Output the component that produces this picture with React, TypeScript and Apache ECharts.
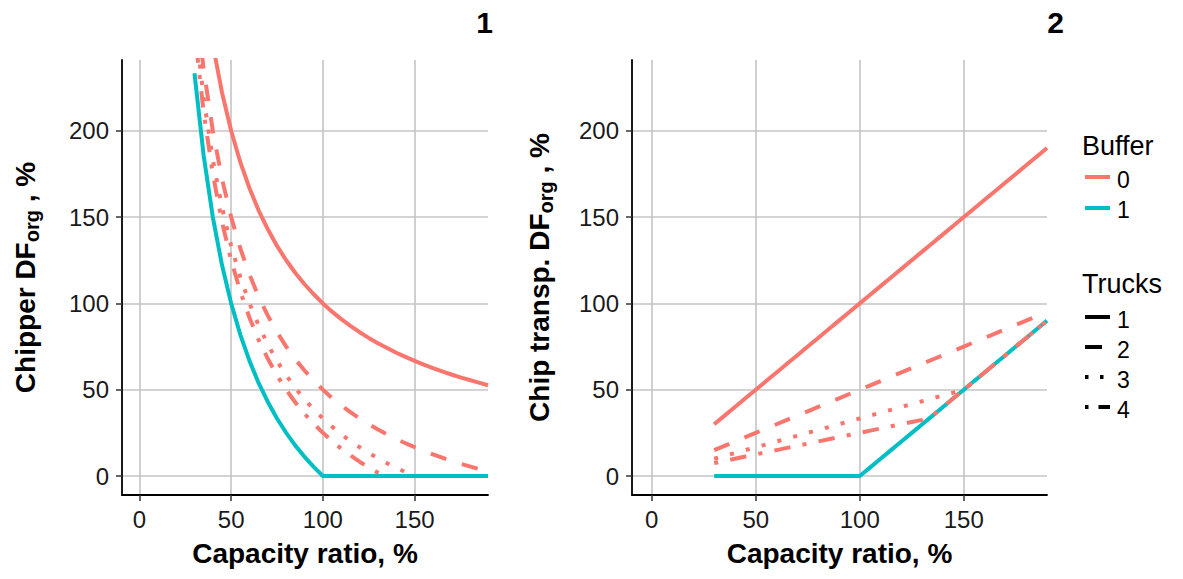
import React, { useEffect, useRef } from "react";
import * as echarts from "echarts";

// Capacity ratio, % (x values shared by all series)
const capacity = [30, 35, 40, 45, 50, 55, 60, 65, 70, 75, 80, 85, 90, 95, 100, 105, 110, 115, 120, 125, 130, 135, 140, 145, 150, 155, 160, 165, 170, 175, 180, 185, 190];

// Panel 1: Chipper DF_org, %
const chipperB0T1 = [333.3, 285.7, 250, 222.2, 200, 181.8, 166.7, 153.8, 142.9, 133.3, 125, 117.6, 111.1, 105.3, 100, 95.2, 90.9, 87, 83.3, 80, 76.9, 74.1, 71.4, 69, 66.7, 64.5, 62.5, 60.6, 58.8, 57.1, 55.6, 54.1, 52.6];
const chipperB0T2 = [283.3, 235.7, 200, 172.2, 150, 131.8, 116.7, 103.8, 92.9, 83.3, 75, 67.6, 61.1, 55.3, 50, 45.2, 40.9, 37, 33.3, 30, 26.9, 24.1, 21.4, 19, 16.7, 14.5, 12.5, 10.6, 8.8, 7.1, 5.6, 4.1, 2.6];
const chipperB0T3 = [266.7, 219, 183.3, 155.6, 133.3, 115.2, 100, 87.2, 76.2, 66.7, 58.3, 51, 44.4, 38.6, 33.3, 28.6, 24.2, 20.3, 16.7, 13.3, 10.3, 7.4, 4.8, 2.3, 0];
const chipperB0T4 = [258.3, 210.7, 175, 147.2, 125, 106.8, 91.7, 78.8, 67.9, 58.3, 50, 42.6, 36.1, 30.3, 25, 20.2, 15.9, 12, 8.3, 5, 1.9, 0];
const chipperB1 = [233.3, 185.7, 150, 122.2, 100, 81.8, 66.7, 53.8, 42.9, 33.3, 25, 17.6, 11.1, 5.3, 0, 0, 0, 0, 0, 0, 0, 0, 0, 0, 0, 0, 0, 0, 0, 0, 0, 0, 0];

// Panel 2: Chip transp. DF_org, %
const transpB0T1 = [30, 35, 40, 45, 50, 55, 60, 65, 70, 75, 80, 85, 90, 95, 100, 105, 110, 115, 120, 125, 130, 135, 140, 145, 150, 155, 160, 165, 170, 175, 180, 185, 190];
const transpB0T2 = [15, 17.5, 20, 22.5, 25, 27.5, 30, 32.5, 35, 37.5, 40, 42.5, 45, 47.5, 50, 52.5, 55, 57.5, 60, 62.5, 65, 67.5, 70, 72.5, 75, 77.5, 80, 82.5, 85, 87.5, 90, 92.5, 95];
const transpB0T3 = [10, 11.7, 13.3, 15, 16.7, 18.3, 20, 21.7, 23.3, 25, 26.7, 28.3, 30, 31.7, 33.3, 35, 36.7, 38.3, 40, 41.7, 43.3, 45, 46.7, 48.3, 50, 55, 60, 65, 70, 75, 80, 85, 90];
const transpB0T4 = [7.5, 8.8, 10, 11.3, 12.5, 13.8, 15, 16.3, 17.5, 18.8, 20, 21.3, 22.5, 23.8, 25, 26.3, 27.5, 28.8, 30, 31.3, 32.5, 35, 40, 45, 50, 55, 60, 65, 70, 75, 80, 85, 90];
const transpB1 = [0, 0, 0, 0, 0, 0, 0, 0, 0, 0, 0, 0, 0, 0, 0, 5, 10, 15, 20, 25, 30, 35, 40, 45, 50, 55, 60, 65, 70, 75, 80, 85, 90];

const xTicks = [0, 50, 100, 150];
const yTicks = [0, 50, 100, 150, 200];
const bufferLevels = ["0", "1"];
const truckLevels = ["1", "2", "3", "4"];
const panelTitles = ["1", "2"];

const RED = "#F8766D";
const TEAL = "#00BFC4";
const FONT = "Liberation Sans, Arial, sans-serif";
const LW = 4;
const DASHES: any[] = ["solid", [16.4, 16.4], [4.1, 12.3], [4.1, 12.3, 16.4, 12.3]];

function pairs(xs: number[], ys: number[]) {
  const out: number[][] = [];
  ys.forEach((y, i) => out.push([xs[i], y]));
  return out;
}

function lineSeries(idx: number, ys: number[], color: string, dash: any, z: number) {
  return {
    type: "line",
    xAxisIndex: idx,
    yAxisIndex: idx,
    data: pairs(capacity, ys),
    showSymbol: false,
    symbol: "none",
    clip: true,
    z,
    lineStyle: { color, width: LW, type: dash, cap: "butt", join: "round" },
  };
}

export default function App() {
  const ref = useRef<HTMLDivElement>(null);
  useEffect(() => {
    const chart = echarts.init(ref.current!, null, { renderer: "svg" });
    const grids = [
      { left: 122, top: 60, width: 366, height: 435 },
      { left: 632, top: 60, width: 415, height: 435 },
    ];
    const labelStyle = { color: "#1a1a1a", fontSize: 24, fontFamily: FONT };
    const yNames = ["{m|Chipper DF}{s|org}{m| , %}", "{m|Chip transp. DF}{s|org}{m| , %}"];
    const yGaps = [80, 76];
    const option: any = {
      animation: false,
      backgroundColor: "#fff",
      grid: grids.map((g) => ({ ...g, containLabel: false })),
      xAxis: [0, 1].map((i) => ({
        type: "value",
        gridIndex: i,
        min: -9.5,
        max: 190,
        axisLine: { show: true, onZero: false, lineStyle: { color: "#000", width: 1.8 } },
        axisTick: { show: true, length: 6, customValues: xTicks, lineStyle: { color: "#333", width: 1.5 } },
        axisLabel: { customValues: xTicks, margin: 12, ...labelStyle },
        splitLine: { show: true, lineStyle: { color: "#c4c4c4", width: 1.6 } },
        name: "Capacity ratio, %",
        nameLocation: "middle",
        nameGap: 44,
        nameTextStyle: { fontSize: 28, fontWeight: "bold", color: "#000", fontFamily: FONT },
      })),
      yAxis: [0, 1].map((i) => ({
        type: "value",
        gridIndex: i,
        min: -11,
        max: 241,
        axisLine: { show: true, onZero: false, lineStyle: { color: "#000", width: 1.8 } },
        axisTick: { show: true, length: 6, customValues: yTicks, lineStyle: { color: "#333", width: 1.5 } },
        axisLabel: { customValues: yTicks, margin: 13, ...labelStyle },
        splitLine: { show: true, lineStyle: { color: "#c4c4c4", width: 1.6 } },
        name: yNames[i],
        nameLocation: "middle",
        nameRotate: 90,
        nameGap: yGaps[i],
        nameTextStyle: {
          rich: {
            m: { fontSize: 28, fontWeight: "bold", color: "#000", fontFamily: FONT, lineHeight: 34 },
            s: { fontSize: 20, fontWeight: "bold", color: "#000", fontFamily: FONT, lineHeight: 20, verticalAlign: "bottom" },
          },
        },
      })),
      series: [
        lineSeries(0, chipperB1, TEAL, DASHES[0], 2),
        lineSeries(0, chipperB0T1, RED, DASHES[0], 3),
        lineSeries(0, chipperB0T2, RED, DASHES[1], 3),
        lineSeries(0, chipperB0T3, RED, DASHES[2], 3),
        lineSeries(0, chipperB0T4, RED, DASHES[3], 3),
        lineSeries(1, transpB1, TEAL, DASHES[0], 2),
        lineSeries(1, transpB0T1, RED, DASHES[0], 3),
        lineSeries(1, transpB0T2, RED, DASHES[1], 3),
        lineSeries(1, transpB0T3, RED, DASHES[2], 3),
        lineSeries(1, transpB0T4, RED, DASHES[3], 3),
      ],
      graphic: [
        { type: "text", right: 1183 - 493, top: 7, style: { text: panelTitles[0], fontSize: 30, fontWeight: "bold", fill: "#000", fontFamily: FONT } },
        { type: "text", right: 1183 - 1064, top: 7, style: { text: panelTitles[1], fontSize: 30, fontWeight: "bold", fill: "#000", fontFamily: FONT } },
        { type: "text", x: 1082, y: 146, style: { text: "Buffer", fontSize: 27, fill: "#000", fontFamily: FONT, verticalAlign: "middle" } },
        ...bufferLevels.flatMap((lv, i) => [
          { type: "line", shape: { x1: 1085, y1: 177 + i * 31, x2: 1110, y2: 177 + i * 31 }, style: { stroke: i === 0 ? RED : TEAL, lineWidth: LW } },
          { type: "text", x: 1117, y: 180 + i * 30, style: { text: lv, fontSize: 23, fill: "#000", fontFamily: FONT, verticalAlign: "middle" } },
        ]),
        { type: "text", x: 1082, y: 284, style: { text: "Trucks", fontSize: 27, fill: "#000", fontFamily: FONT, verticalAlign: "middle" } },
        ...truckLevels.flatMap((lv, i) => [
          {
            type: "line",
            shape: { x1: 1085, y1: 317 + i * 30, x2: 1110, y2: 317 + i * 30 },
            style: { stroke: "#000", lineWidth: LW, lineDash: i === 0 ? null : i === 1 ? [17, 12] : i === 2 ? [3.5, 11.5] : [3.5, 10, 15, 10] },
          },
          { type: "text", x: 1117, y: 320 + i * 30, style: { text: lv, fontSize: 23, fill: "#000", fontFamily: FONT, verticalAlign: "middle" } },
        ]),
      ],
    };
    chart.setOption(option);
    return () => chart.dispose();
  }, []);
  return <div ref={ref} style={{ position: "fixed", left: 0, top: 0, width: 1183, height: 579, background: "#fff" }} />;
}
